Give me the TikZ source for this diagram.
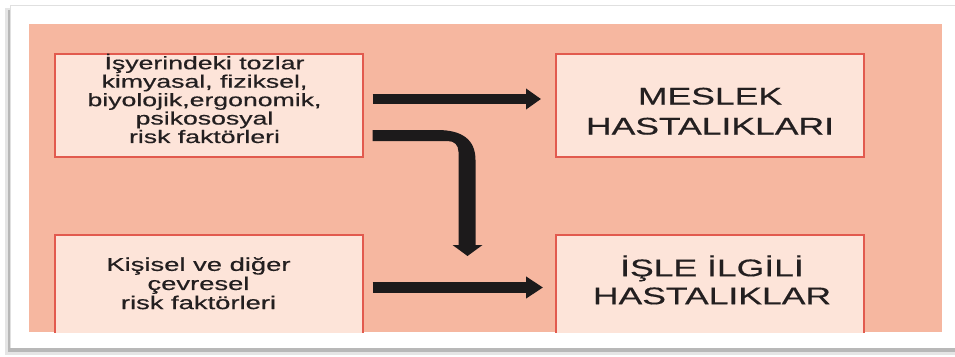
\documentclass[tikz,border=0pt]{standalone}
\usepackage{fontspec}
\usepackage{graphicx}
% Arial-metric sans, slightly heavy
\newfontfamily\boxfont[FakeBold=0.4]{Liberation Sans}
\usetikzlibrary{arrows.meta,calc}

% centred lines, drawn wide
\newcommand{\widelines}[1]{\scalebox{1.48}[1]{\begin{tabular}{@{}c@{}}#1\end{tabular}}}

\definecolor{salmon}{RGB}{246,183,160}
\definecolor{peach}{RGB}{253,228,217}
\definecolor{boxred}{RGB}{226,90,78}
\definecolor{ink}{RGB}{35,31,32}
\definecolor{arrowink}{RGB}{28,26,27}

\begin{document}
\begin{tikzpicture}[x=1pt,y=-1pt,
  box/.style={draw=boxred, line width=2pt, fill=peach, inner sep=0pt,
              minimum width=308pt, minimum height=103pt},
  smalltext/.style={font=\boxfont\fontsize{18}{18}\selectfont, text=ink,
                    inner sep=0pt},
  bigtext/.style={font=\boxfont\fontsize{24}{30}\selectfont, text=ink,
                  inner sep=0pt},
  fatarrow/.style={draw=arrowink, line width=10pt,
                   -{Triangle[length=15pt,width=20pt]}},
]
\useasboundingbox (0,0) rectangle (955,356);
\fill[white] (0,0) rectangle (955,356);

% card with its drop shadow
\fill[black!10] (5,8) rectangle (955,355);
\fill[black!28] (8,10) rectangle (955,351.5);
\fill[white] (10,5) rectangle (955,348);
\draw[black!12, line width=0.6pt] (10,348) -- (10,5) -- (955,5);

% coloured panel with the four boxes (lower boxes run off the panel)
\begin{scope}
  \clip (29,24) rectangle (942,332);
  \fill[salmon] (29,24) rectangle (942,332);
  \node[box] (tl) at (208.5,105) {};
  \node[box] (tr) at (710,105.5) {};
  \node[box, minimum height=105pt] (bl) at (208.5,287.5) {};
  \node[box, minimum height=105pt] (br) at (710,287.5) {};
\end{scope}

% box texts
\node[smalltext] (tltext) at ([xshift=-4pt,yshift=4pt]tl.center)
  {\widelines{İşyerindeki tozlar\\kimyasal, fiziksel,\\biyolojik,ergonomik,\\psikososyal\\risk faktörleri}};
\node[bigtext] (trtext) at ([yshift=-8pt]tr.center)
  {\widelines{MESLEK\\HASTALIKLARI}};
\node[smalltext, font=\boxfont\fontsize{18.5}{19}\selectfont] (bltext)
  at ([xshift=-10pt,yshift=1.5pt]bl.center)
  {\widelines{Kişisel ve diğer\\çevresel\\risk faktörleri}};
\node[bigtext, font=\boxfont\fontsize{24}{28}\selectfont] (brtext)
  at ([xshift=2pt,yshift=3.5pt]br.center)
  {\widelines{İŞLE İLGİLİ\\HASTALIKLAR}};

% straight arrows
\coordinate (a1) at ([xshift=9pt,yshift=6pt]tl.east);
\draw[fatarrow, shorten >=14pt] (a1) -- (a1 -| tr.west);
\coordinate (a2) at ([xshift=9pt]bl.east);
\draw[fatarrow, line width=11pt, -{Triangle[length=17pt,width=21pt]},
      shorten >=12pt] (a2) -- (a2 -| br.west);

% bent arrow: widens as it turns down
\coordinate (b0) at ([xshift=9pt,yshift=-25pt]tl.east);
\begin{scope}[shift={(b0)}]
  \fill[arrowink] (0,0) -- (65,0)
    .. controls (90,0) and (103,10) .. (103,30)
    -- (103,115) -- (110,115) -- (95,126) -- (80,115) -- (86,115)
    -- (86,22) .. controls (86,15) and (82,11) .. (75,11)
    -- (0,11) -- cycle;
  \coordinate (drop) at (95,126);
\end{scope}
\end{tikzpicture}
\end{document}
